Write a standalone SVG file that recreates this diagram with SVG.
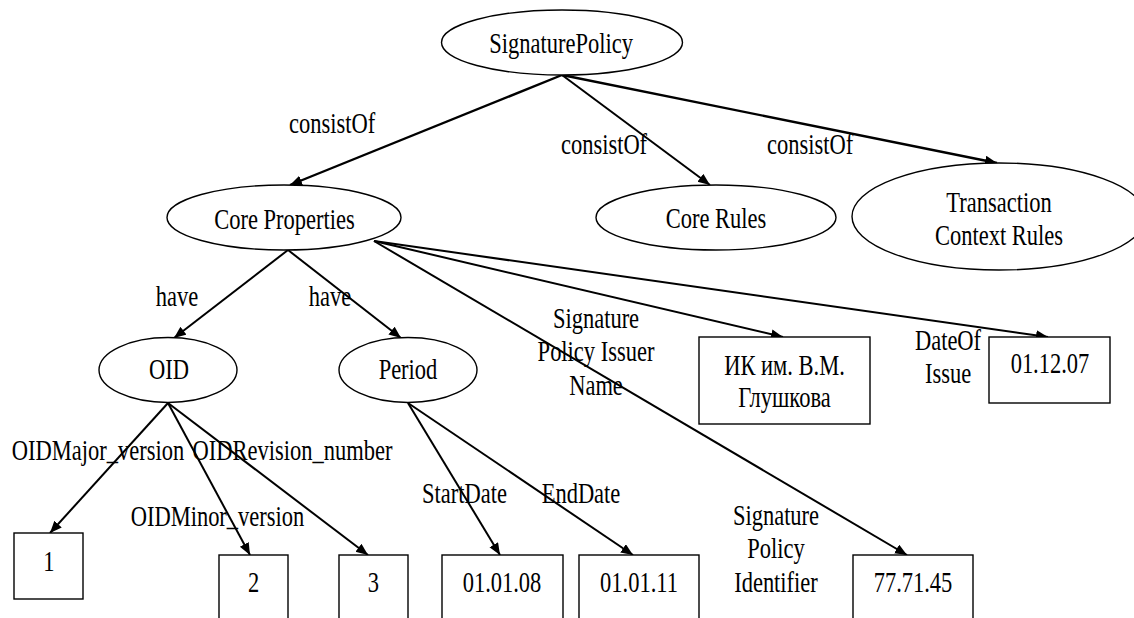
<svg xmlns="http://www.w3.org/2000/svg" width="1134" height="618" viewBox="0 0 1134 618" font-family="'Liberation Serif', Tinos, 'Times New Roman', serif">
<defs>
<style>
text{font-family:"Liberation Serif",Tinos,"Times New Roman",serif;font-size:30px;fill:#000;text-anchor:middle;transform-box:fill-box;transform-origin:center;transform:scaleX(0.75)}
.n{fill:#fff;stroke:#000;stroke-width:1.4}
.c{fill:none;stroke:#000;stroke-width:2;marker-end:url(#ah)}
.t{stroke-width:2.4}
</style>
<marker id="ah" markerWidth="13" markerHeight="11" refX="12" refY="5" orient="auto" markerUnits="userSpaceOnUse"><path d="M0,0 L12,5 L0,10 z" fill="#000"/></marker>
</defs>
<rect width="1134" height="618" fill="#fff"/>
<g id="connectors">
<path class="c t" d="M562,75 L290,185"/>
<path class="c" d="M562,75 L710,185"/>
<path class="c t" d="M562,75 L997,163"/>
<path class="c" d="M288,250 L174,338"/>
<path class="c" d="M288,250 L401,338"/>
<path class="c" d="M374,241 L783,337"/>
<path class="c" d="M374,241 L1048,337"/>
<path class="c" d="M374,241 L907,555"/>
<path class="c" d="M168,403 L50,533"/>
<path class="c" d="M168,403 L250,555"/>
<path class="c" d="M168,403 L368,555"/>
<path class="c" d="M408,403 L500,555"/>
<path class="c" d="M408,403 L633,555"/>
</g>
<g id="edge-labels">
<text x="332" y="133">consistOf</text>
<text x="604" y="154">consistOf</text>
<text x="810" y="154">consistOf</text>
<text x="177" y="306">have</text>
<text x="330" y="306">have</text>
<text x="596" y="328">Signature<tspan x="596" dy="33.5">Policy Issuer</tspan><tspan x="596" dy="33.5">Name</tspan></text>
<text x="948" y="350">DateOf<tspan x="948" dy="33">Issue</tspan></text>
<text x="98" y="460">OIDMajor_version</text>
<text x="292.5" y="460">OIDRevision_number</text>
<text x="217.5" y="526">OIDMinor_version</text>
<text x="464.5" y="503">StartDate</text>
<text x="581" y="503">EndDate</text>
<text x="776" y="525">Signature<tspan x="776" dy="33.3">Policy</tspan><tspan x="776" dy="33.3">Identifier</tspan></text>
</g>
<g id="signature-policy"><ellipse class="n" cx="562" cy="42.5" rx="120.5" ry="32.5"/><text x="561" y="53">SignaturePolicy</text></g>
<g id="core-properties"><ellipse class="n" cx="284" cy="217.5" rx="117" ry="32.5"/><text x="284.5" y="229">Core Properties</text></g>
<g id="core-rules"><ellipse class="n" cx="716" cy="217.5" rx="120" ry="32.5"/><text x="716" y="228">Core Rules</text></g>
<g id="transaction-context-rules"><ellipse class="n" cx="999" cy="216.5" rx="147" ry="53.5"/><text x="999" y="212">Transaction<tspan x="999" dy="33">Context Rules</tspan></text></g>
<g id="oid"><ellipse class="n" cx="168" cy="370" rx="69" ry="32.5"/><text x="169" y="379">OID</text></g>
<g id="period"><ellipse class="n" cx="408" cy="370" rx="69" ry="32.5"/><text x="408" y="379">Period</text></g>
<g id="v1"><rect class="n" x="14" y="533" width="69" height="66"/><text x="49" y="571">1</text></g>
<g id="v2"><rect class="n" x="219" y="555" width="69" height="80"/><text x="253.5" y="592">2</text></g>
<g id="v3"><rect class="n" x="339" y="555" width="69" height="80"/><text x="373.5" y="592">3</text></g>
<g id="start-date"><rect class="n" x="442" y="555" width="121" height="80"/><text x="502" y="592">01.01.08</text></g>
<g id="end-date"><rect class="n" x="579" y="555" width="120" height="80"/><text x="639" y="592">01.01.11</text></g>
<g id="identifier"><rect class="n" x="853" y="555" width="120" height="80"/><text x="913" y="592">77.71.45</text></g>
<g id="issuer"><rect class="n" x="699" y="337" width="171" height="87"/><text x="784.5" y="375">ИК им. В.М.<tspan x="784.5" dy="32.5">Глушкова</tspan></text></g>
<g id="date-of-issue"><rect class="n" x="989" y="337" width="121" height="66"/><text x="1050" y="373">01.12.07</text></g>
</svg>
